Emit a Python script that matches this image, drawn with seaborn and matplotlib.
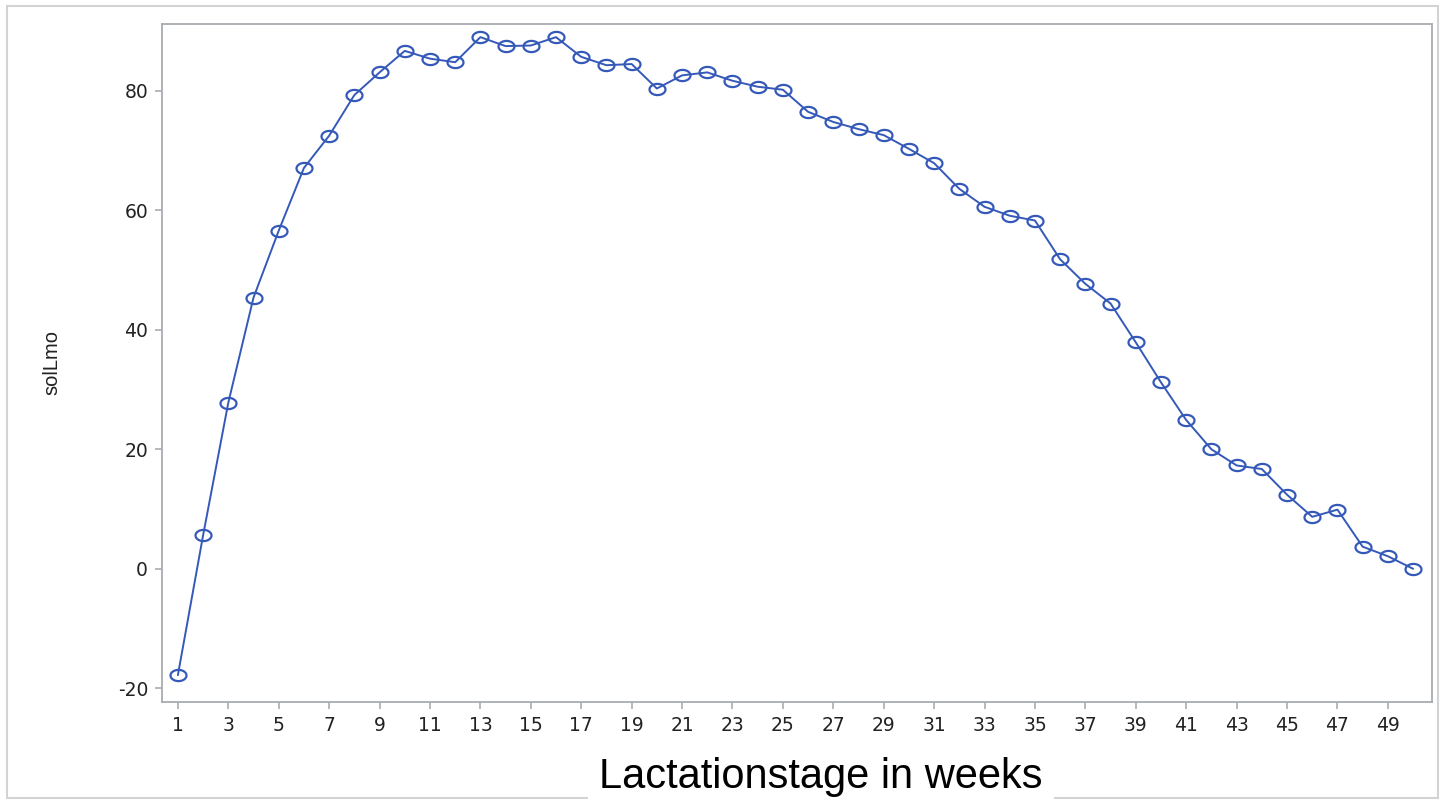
import matplotlib
matplotlib.use("Agg")
import matplotlib.pyplot as plt
import seaborn as sns
import pandas as pd
import numpy as np
from matplotlib.patches import Rectangle
from matplotlib.path import Path

weeks = list(range(1, 51))
solLmo = [-17.8, 5.6, 27.8, 45.4, 56.6, 67.1, 72.5, 79.3, 83.1, 86.7,
          85.4, 84.8, 89.0, 87.5, 87.6, 89.0, 85.7, 84.3, 84.5, 80.4,
          82.6, 83.1, 81.7, 80.7, 80.2, 76.5, 74.8, 73.6, 72.6, 70.3,
          67.9, 63.6, 60.6, 59.1, 58.3, 51.8, 47.7, 44.4, 37.9, 31.2,
          24.9, 20.0, 17.3, 16.7, 12.4, 8.7, 9.9, 3.7, 2.1, 0.0]
xticks = list(range(1, 50, 2))
yticks = [-20, 0, 20, 40, 60, 80]

df = pd.DataFrame({"week": weeks, "solLmo": solLmo})

sns.set_theme(style="white")
plt.rcParams['font.family'] = ['Liberation Sans', 'DejaVu Sans']

fig = plt.figure(figsize=(14.43, 8), dpi=100)
ax = fig.add_axes([162/1443, 1-702/800, (1432-162)/1443, (702-24)/800])

# elliptical open marker (wider than tall, as in the reference)
t = np.linspace(0, 2*np.pi, 60)
ell = Path(np.column_stack([np.cos(t), 0.7*np.sin(t)]), closed=True)

color = "#3559B9"
sns.lineplot(data=df, x="week", y="solLmo", ax=ax, color=color, linewidth=1.4,
             marker=ell, markersize=11.5, markerfacecolor="none",
             markeredgecolor=color, markeredgewidth=1.6)

ax.set_xlim(0.37, 50.75)
ax.set_ylim(-22.3, 91.2)
ax.set_xticks(xticks)
ax.set_xticklabels([str(t) for t in xticks])
ax.set_yticks(yticks)
ax.set_yticklabels([str(t) for t in yticks])

grey = "#A8ABB0"
for s in ax.spines.values():
    s.set_color(grey)
    s.set_linewidth(1.3)
ax.tick_params(axis="both", direction="out", length=5, width=1.2, color=grey,
               labelsize=13.5, labelcolor="#222222", pad=5)
for lab in ax.get_xticklabels() + ax.get_yticklabels():
    lab.set_family(['DejaVu Sans'])
ax.tick_params(axis="x", bottom=True)
ax.tick_params(axis="y", left=True)

ax.set_xlabel("")
ax.set_ylabel("solLmo", fontsize=14.5, color="#222222")
ax.yaxis.set_label_coords(-0.079, 0.5)

# outer frame
fig.patches.append(Rectangle((7/1443, 2/800), (1438-7)/1443, (794-2)/800,
                             transform=fig.transFigure, fill=False,
                             edgecolor="#D3D3D3", linewidth=1.5, zorder=0))

fig.text(821/1443, 1-777/800, "Lactationstage in weeks", fontsize=30,
         color="black", ha="center", va="center",
         bbox=dict(facecolor="white", edgecolor="none", pad=8))

fig.savefig("out.png", dpi=100)
